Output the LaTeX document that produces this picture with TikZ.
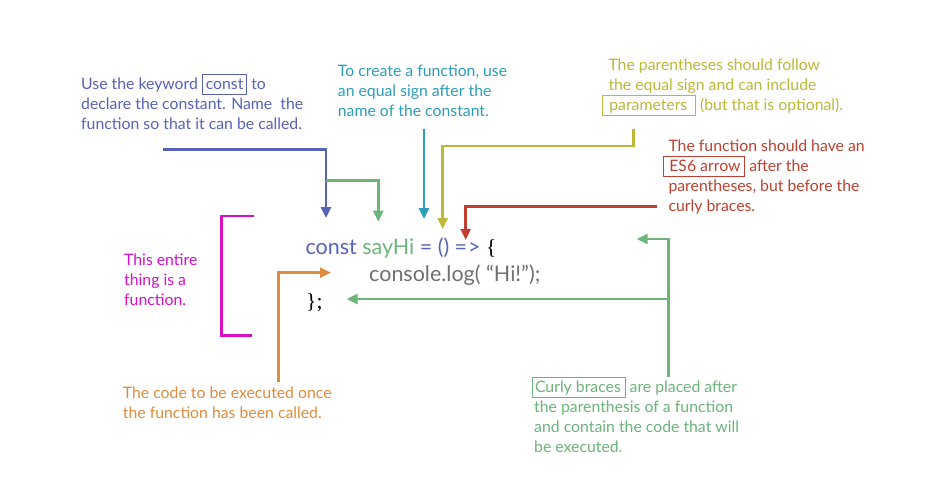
\documentclass[tikz,border=0pt]{standalone}
\usepackage{fontspec}
\setmainfont{Lato}
\newfontfamily\bracefont{Liberation Serif}
\usetikzlibrary{arrows.meta}
\definecolor{cblue}{RGB}{88,98,182}
\definecolor{cteal}{RGB}{44,158,184}
\definecolor{colive}{RGB}{188,184,56}
\definecolor{cred}{RGB}{190,64,48}
\definecolor{cgreen}{RGB}{108,180,122}
\definecolor{cmag}{RGB}{212,16,200}
\definecolor{corange}{RGB}{222,140,62}
\definecolor{cgray}{RGB}{112,112,112}
\newcommand\tagbox[4]{\kern-#2\begingroup\setlength\fboxsep{0pt}\setlength\fboxrule{0.8pt}\fcolorbox{#1}{white}{\rule[-4.5pt]{0pt}{19pt}\kern#2 #4\kern#3}\endgroup}
\begin{document}
\begin{tikzpicture}[x=1pt,y=-1pt,
  note/.style={anchor=base west,inner sep=0pt,align=left,font={\fontsize{15.8}{20}\selectfont}},
  codetext/.style={anchor=base west,inner sep=0pt,font={\fontsize{21.5}{25}\selectfont}},
  conn/.style={line width=2.6pt,-{Triangle[length=11pt,width=10pt]}},
  plain/.style={line width=2.6pt}]
\useasboundingbox (0,0) rectangle (944,488);
\fill[white] (0,0) rectangle (944,488);
% texts (anchor = baseline of the last line)
\node[note,text=cblue] (t1) at (81,129.3) {Use the keyword \tagbox{cblue}{0pt}{0pt}{\kern3pt const\kern3pt} to\\declare the constant. Name\ \ the\\function so that it can be called.};
\node[note,text=cteal] (t2) at (337.7,116.7) {To create a function, use\\an equal sign after the\\name of the constant.};
\node[note,text=colive] (t3) at (608.3,110.7) {The parentheses should follow\\the equal sign and can include\\\tagbox{colive}{6.5pt}{8pt}{parameters} (but that is optional).};
\node[note,text=cred] (t4) at (668.3,211.7) {The function should have an\\\tagbox{cred}{6pt}{4pt}{ES6 arrow} after the\\parentheses, but before the\\curly braces.};
\node[note,text=cmag] (t5) at (124,305.7) {This entire\\thing is a\\function.};
\node[note,text=corange] (t6) at (122.7,418.3) {The code to be executed once\\the function has been called.};
\node[note,text=cgreen] (t7) at (534,452.3) {\tagbox{cgreen}{2.5pt}{4pt}{Curly braces} are placed after\\the parenthesis of a function\\and contain the code that will\\be executed.};
% code
\node[codetext] (c1) at (305.3,254.3) {\textcolor{cblue}{const} \textcolor{cgreen}{sayHi} \textcolor{cblue}{= () =\kern1pt>} {\bracefont\{}};
\node[codetext,text=cgray] (c2) at (369,281.7) {console.log( “Hi!”);};
\node[codetext] (c3) at (306,308) {{\bracefont\};}};
% coordinates
\coordinate (b0) at (162.7,149.3); \coordinate (b1) at (326,149.3); \coordinate (b2) at (326,218);
\coordinate (g0) at (326,180.7); \coordinate (g1) at (378.3,180.7); \coordinate (g2) at (378.3,221.7);
\coordinate (e0) at (424,129); \coordinate (e1) at (424,219);
\coordinate (y0) at (633.3,129); \coordinate (y1) at (633.3,146); \coordinate (y2) at (442.7,146); \coordinate (y3) at (442.7,229);
\coordinate (r0) at (657.3,206.7); \coordinate (r1) at (465.7,206.7); \coordinate (r2) at (465.7,240);
\coordinate (h0) at (668.3,376.7); \coordinate (h1) at (668.3,239); \coordinate (h2) at (636.7,239);
\coordinate (k0) at (668.3,299); \coordinate (k1) at (346.7,299);
\coordinate (o0) at (278.3,381.7); \coordinate (o1) at (278.3,272.7); \coordinate (o2) at (331,272.7);
\coordinate (m0) at (254,216); \coordinate (m1) at (221.7,216); \coordinate (m2) at (221.7,335.7); \coordinate (m3) at (252.3,335.7);
% connectors
\draw[conn,cblue] (b0) -- (b1) -- (b2);
\draw[conn,cgreen] (g0) -- (g1) -- (g2);
\draw[conn,cteal] (e0) -- (e1);
\draw[conn,colive] (y0) -- (y1) -- (y2) -- (y3);
\draw[conn,cred] (r0) -- (r1) -- (r2);
\draw[conn,cgreen] (h0) -- (h1) -- (h2);
\draw[conn,cgreen] (k0) -- (k1);
\draw[conn,corange] (o0) -- (o1) -- (o2);
\draw[plain,cmag] (m0) -- (m1) -- (m2) -- (m3);
\end{tikzpicture}
\end{document}
